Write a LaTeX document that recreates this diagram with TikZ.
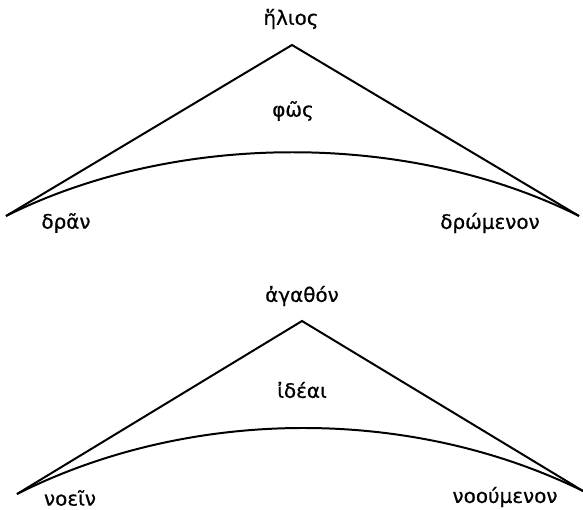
\documentclass[tikz,border=0pt]{standalone}
\usepackage{fontspec}
\setmainfont{DejaVu Sans}[FakeBold=0.7]
\begin{document}
\begin{tikzpicture}[x=1bp,y=-1bp,
  lbl/.style={inner sep=0pt,font=\fontsize{20}{24}\selectfont},
  edge/.style={line width=2pt,line join=miter}]
\useasboundingbox (0,0) rectangle (583,510);
% top figure
\coordinate (tA) at (292,45);
\coordinate (tL) at (6,216);
\coordinate (tR) at (579,216);
\draw[edge] (tL) -- (tA) -- (tR);
\draw[edge] (tL) .. controls (176,131) and (409,131) .. (tR);
\node[lbl] (helios) at (291,19) {ἥλιος};
\node[lbl] (phos) at (293,111) {φῶς};
\node[lbl] (dran) at (66,223) {δρᾶν};
\node[lbl] (dromenon) at (490,223) {δρώμενον};
% bottom figure
\coordinate (bA) at (302,321);
\coordinate (bL) at (17,494);
\coordinate (bR) at (583,491);
\draw[edge] (bL) -- (bA) -- (bR);
\draw[edge] (bL) .. controls (190,407) and (410,406) .. (bR);
\node[lbl] (agathon) at (302,296) {ἀγαθόν};
\node[lbl] (ideai) at (302,390) {ἰδέαι};
\node[lbl] (noein) at (70,498) {νοεῖν};
\node[lbl] (nooumenon) at (505,497) {νοούμενον};
\end{tikzpicture}
\end{document}
